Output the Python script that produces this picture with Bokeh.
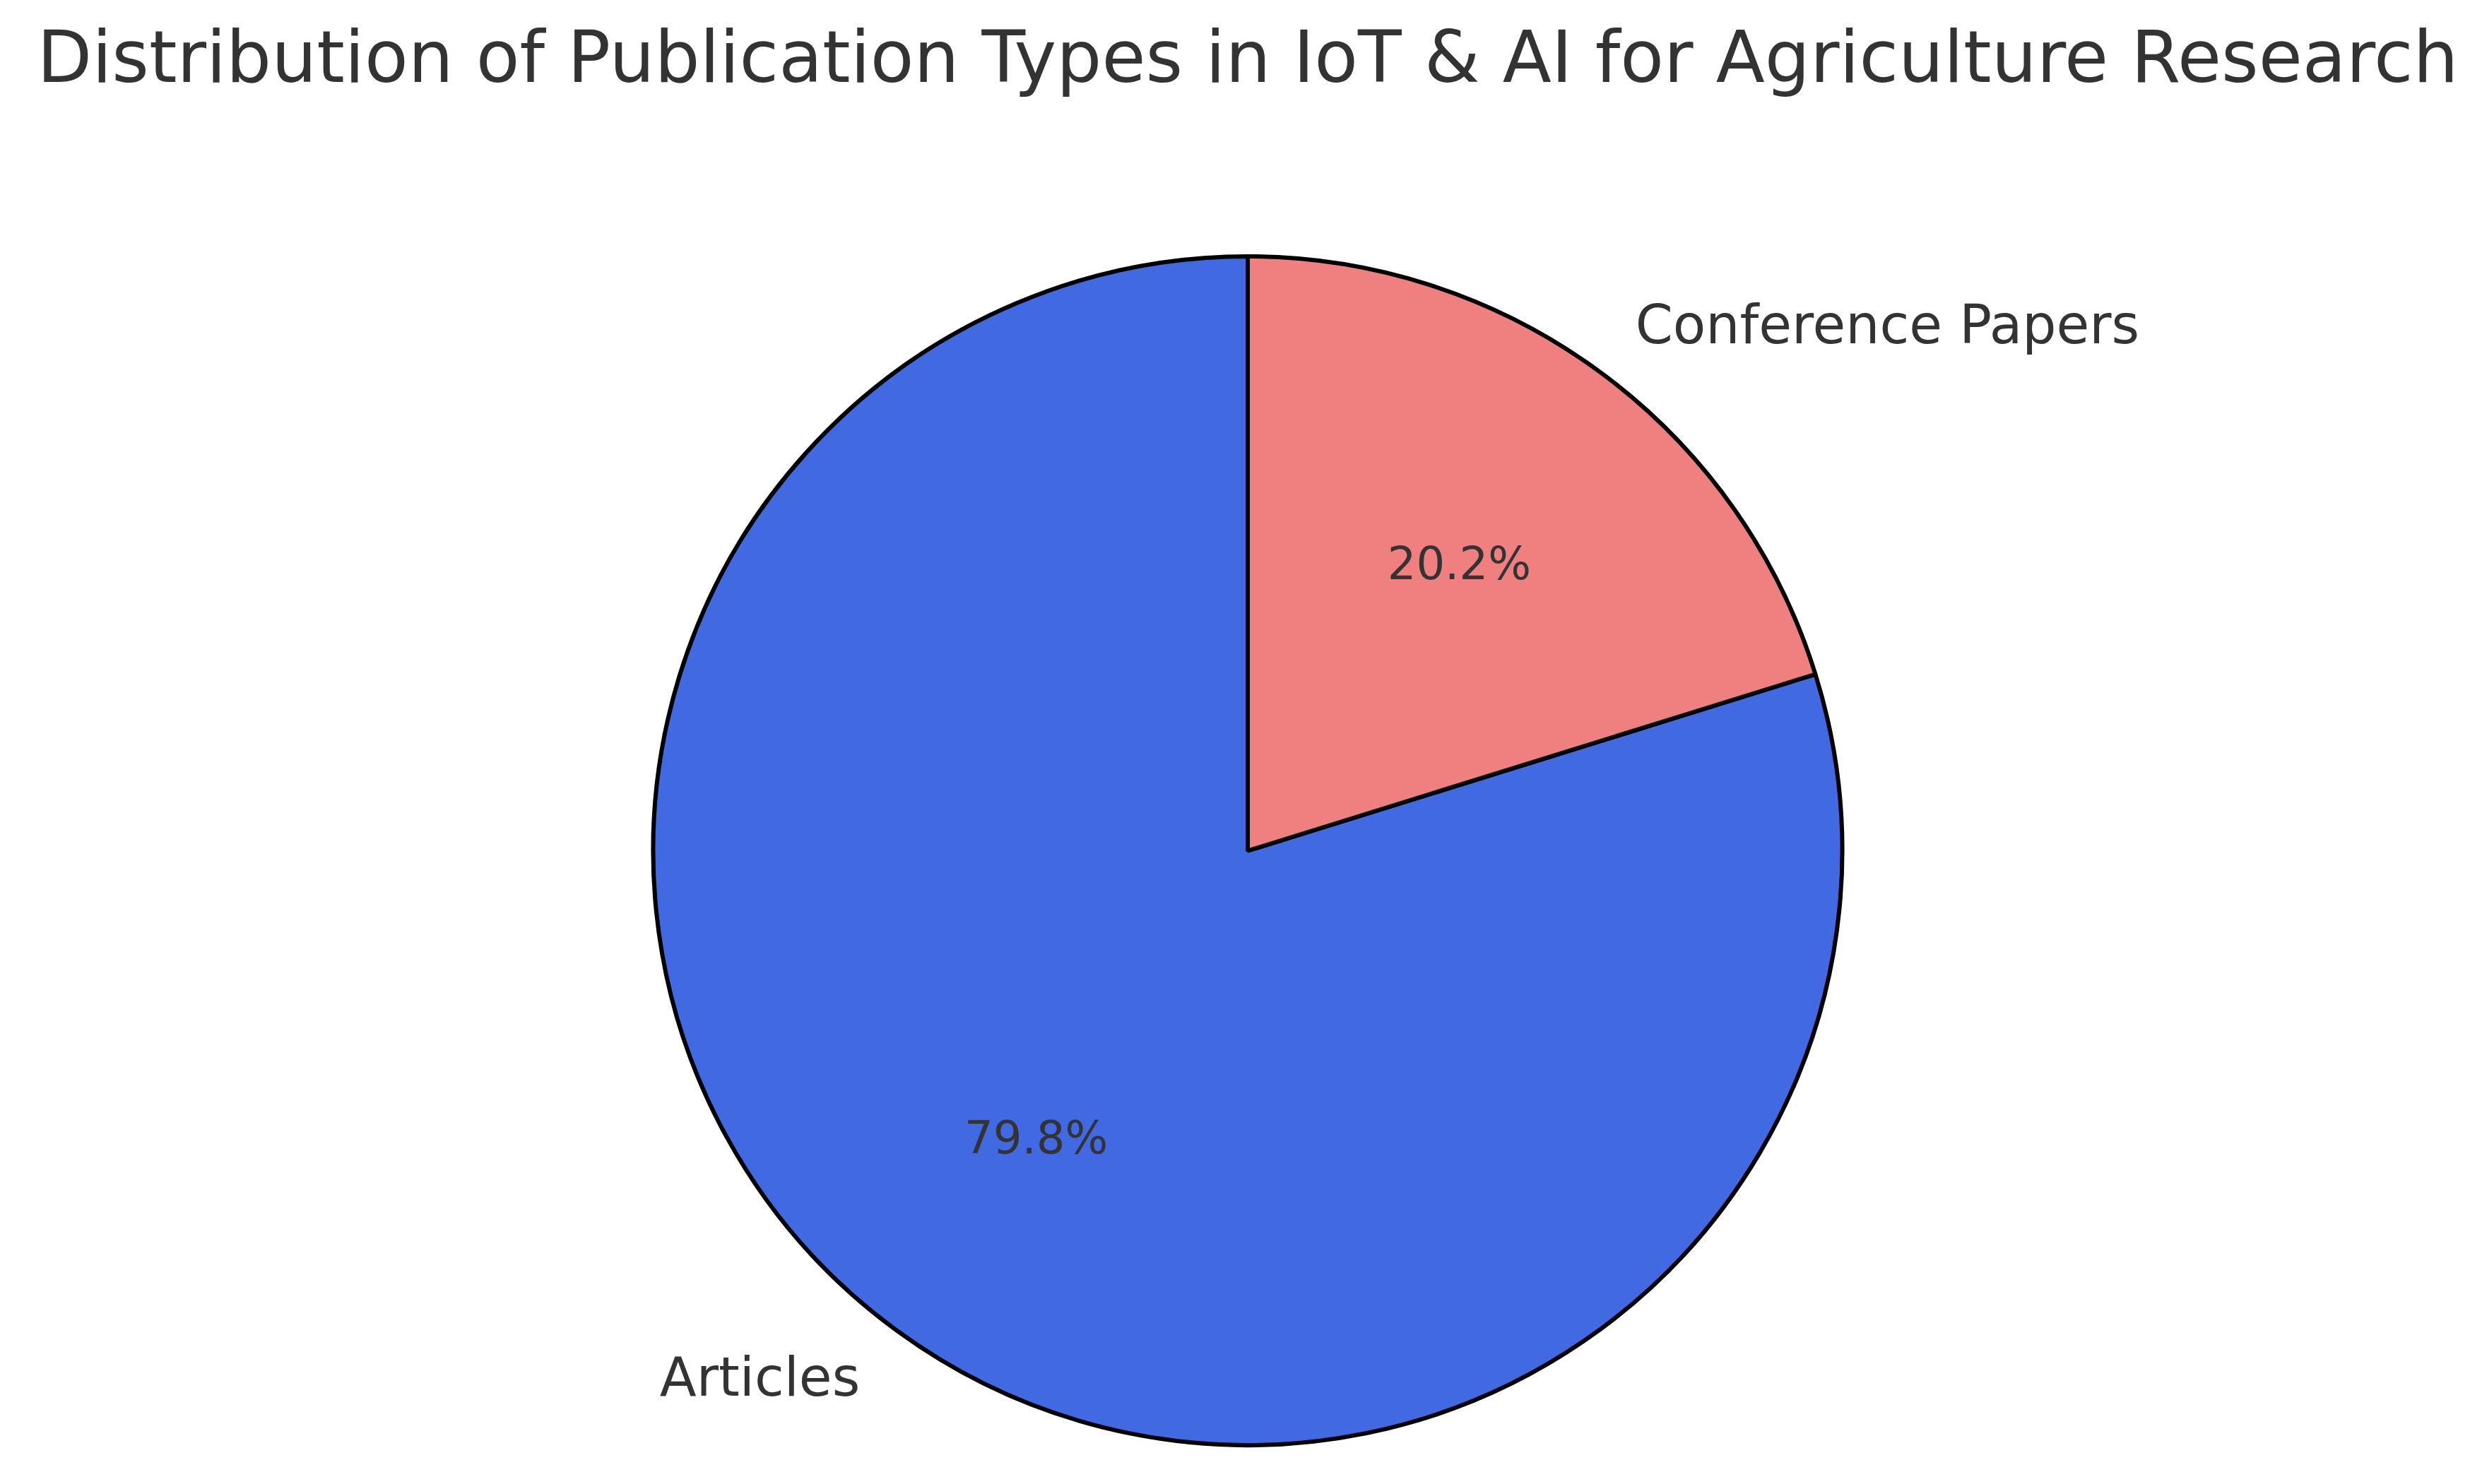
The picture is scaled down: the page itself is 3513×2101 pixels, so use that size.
import math
from bokeh.plotting import figure
from bokeh.models import Range1d, ColumnDataSource
from bokeh.core.properties import value
from bokeh.embed import file_html
from bokeh.resources import INLINE

# ---- data ----
categories = ["Articles", "Conference Papers"]
shares = [79.8, 20.2]
colors = ["#4169E1", "#F08080"]
title_text = "Distribution of Publication Types in IoT & AI for Agriculture Research"

# ---- layout (page pixel based, y flipped to data) ----
W, H = 3497, 2085
PAGE_H = 2101
cx, cy_page, R = 1765.5, 1204.0, 841.5
cy = PAGE_H - cy_page

p = figure(width=W, height=H, output_backend="svg", toolbar_location=None,
           x_range=Range1d(0, W), y_range=Range1d(PAGE_H - H, PAGE_H),
           min_border=0, outline_line_color=None)
p.axis.visible = False
p.grid.visible = False
p.background_fill_color = "white"
p.border_fill_color = "white"

total = sum(shares)
starts, ends, mids = [], [], []
a = math.pi / 2
for v in shares:
    sweep = 2 * math.pi * v / total
    starts.append(a)
    ends.append(a + sweep)
    mids.append(a + sweep / 2)
    a += sweep

src = ColumnDataSource(dict(x=[cx] * len(shares), y=[cy] * len(shares),
                            start=starts, end=ends, color=colors))
p.wedge(x="x", y="y", radius=R, start_angle="start", end_angle="end",
        direction="anticlock", fill_color="color", line_color="black",
        line_width=6, source=src)

# category labels at 1.1 R
lx, ly, la = [], [], []
for m in mids:
    x = cx + 1.1 * R * math.cos(m)
    y = cy + 1.1 * R * math.sin(m)
    lx.append(x); ly.append(y)
    la.append("left" if math.cos(m) > 0 else "right")
p.text(x=lx, y=ly, text=categories, text_align=la, text_baseline="middle",
       text_font=value("DejaVu Sans"), text_font_size="76px", text_color="#333333")

# percentage labels at 0.6 R
px = [cx + 0.6 * R * math.cos(m) for m in mids]
py = [cy + 0.6 * R * math.sin(m) for m in mids]
pct = ["%.1f%%" % (100 * v / total) for v in shares]
p.text(x=px, y=py, text=pct, text_align="center", text_baseline="middle",
       text_font=value("DejaVu Sans"), text_font_size="64px", text_color="#333333")

# title
p.text(x=[cx], y=[PAGE_H - 80], text=[title_text], text_align="center",
       text_baseline="middle", text_font=value("DejaVu Sans"),
       text_font_size="101px", text_color="#333333")

open("out.html", "w").write(file_html(p, INLINE))
